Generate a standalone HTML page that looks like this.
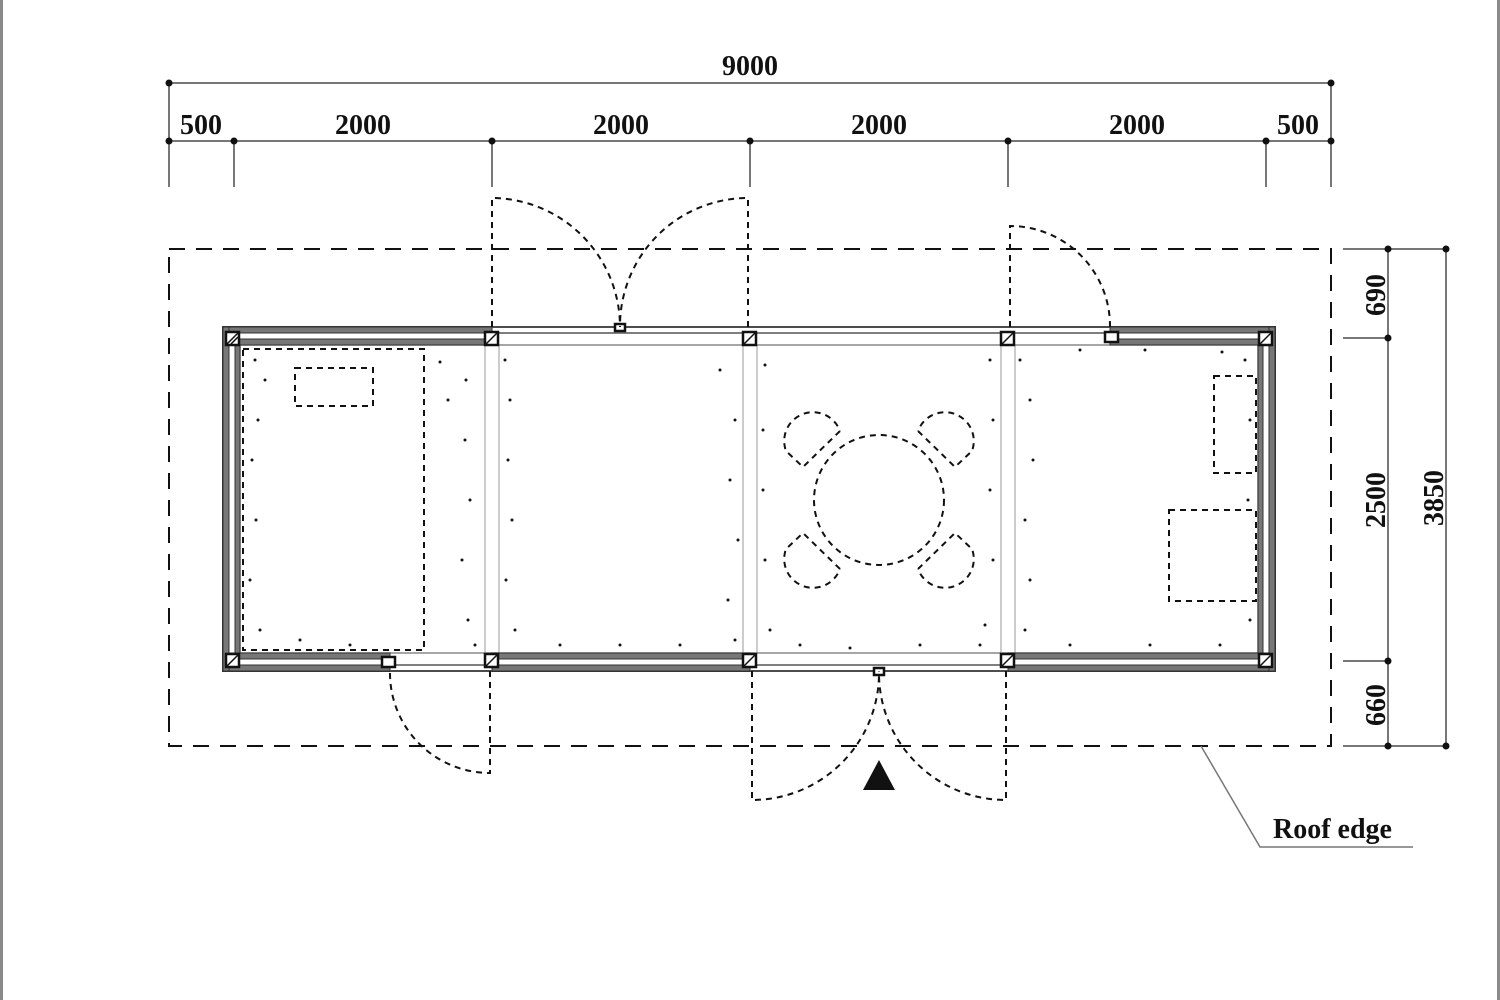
<!DOCTYPE html>
<html><head><meta charset="utf-8"><style>
html,body{margin:0;padding:0;background:#fff;}
svg{display:block;}
text{font-family:"Liberation Serif",serif;font-weight:bold;fill:#111;}
</style></head><body>
<svg width="1500" height="1000" viewBox="0 0 1500 1000" xmlns="http://www.w3.org/2000/svg">
<rect x="0" y="0" width="3" height="1000" fill="#8a8a8a"/>
<rect x="1497" y="0" width="3" height="1000" fill="#8a8a8a"/>

<g stroke="#777" stroke-width="2" fill="none">
<line x1="169" y1="83" x2="1331" y2="83"/>
<line x1="169" y1="141" x2="1331" y2="141"/>
<line x1="169" y1="83" x2="169" y2="187"/>
<line x1="1331" y1="83" x2="1331" y2="187"/>
<line x1="234" y1="141" x2="234" y2="187"/>
<line x1="492" y1="141" x2="492" y2="187"/>
<line x1="750" y1="141" x2="750" y2="187"/>
<line x1="1008" y1="141" x2="1008" y2="187"/>
<line x1="1266" y1="141" x2="1266" y2="187"/>
</g>
<g fill="#111">
<circle cx="169" cy="83" r="3.5"/><circle cx="1331" cy="83" r="3.5"/>
<circle cx="169" cy="141" r="3.5"/><circle cx="234" cy="141" r="3.5"/><circle cx="492" cy="141" r="3.5"/><circle cx="750" cy="141" r="3.5"/><circle cx="1008" cy="141" r="3.5"/><circle cx="1266" cy="141" r="3.5"/><circle cx="1331" cy="141" r="3.5"/>
</g>
<g font-size="28" text-anchor="middle">
<text x="750" y="75">9000</text>
<text x="201" y="134">500</text>
<text x="363" y="134">2000</text>
<text x="621" y="134">2000</text>
<text x="879" y="134">2000</text>
<text x="1137" y="134">2000</text>
<text x="1298" y="134">500</text>
</g>

<g stroke="#777" stroke-width="2" fill="none">
<line x1="1343" y1="249" x2="1446" y2="249"/>
<line x1="1343" y1="338" x2="1388" y2="338"/>
<line x1="1343" y1="661" x2="1388" y2="661"/>
<line x1="1343" y1="746" x2="1446" y2="746"/>
<line x1="1388" y1="249" x2="1388" y2="746"/>
<line x1="1446" y1="249" x2="1446" y2="746"/>
</g>
<g fill="#111">
<circle cx="1388" cy="249" r="3.5"/><circle cx="1446" cy="249" r="3.5"/><circle cx="1388" cy="338" r="3.5"/><circle cx="1388" cy="661" r="3.5"/><circle cx="1388" cy="746" r="3.5"/><circle cx="1446" cy="746" r="3.5"/>
</g>
<g font-size="28" text-anchor="middle">
<text transform="translate(1385,295) rotate(-90)">690</text>
<text transform="translate(1385,500) rotate(-90)">2500</text>
<text transform="translate(1385,705) rotate(-90)">660</text>
<text transform="translate(1443,498) rotate(-90)">3850</text>
</g>

<rect x="169" y="249" width="1162" height="497" fill="none" stroke="#111" stroke-width="2" stroke-dasharray="16,11"/>
<polyline points="1201,746 1260,847 1413,847" fill="none" stroke="#777" stroke-width="1.5"/>
<text x="1273" y="838" font-size="28">Roof edge</text>

<g fill="none" stroke="#333">
<rect x="223" y="327" width="1052" height="344" stroke-width="2"/>
<rect x="240" y="345" width="1018" height="308" stroke-width="1.5" stroke="#888"/>
<line x1="485" y1="345" x2="485" y2="653" stroke="#999"/>
<line x1="499" y1="345" x2="499" y2="653" stroke="#999"/>
<line x1="743" y1="345" x2="743" y2="653" stroke="#999"/>
<line x1="757" y1="345" x2="757" y2="653" stroke="#999"/>
<line x1="1001" y1="345" x2="1001" y2="653" stroke="#999"/>
<line x1="1015" y1="345" x2="1015" y2="653" stroke="#999"/>
</g>
<g fill="#777" stroke="#333" stroke-width="1">
<rect x="223" y="327" width="269" height="6"/>
<rect x="223" y="339" width="269" height="6"/>
<rect x="1110" y="327" width="165" height="6"/>
<rect x="1110" y="339" width="165" height="6"/>
<rect x="223" y="653" width="167" height="6"/>
<rect x="223" y="665" width="167" height="6"/>
<rect x="492" y="653" width="258" height="6"/>
<rect x="492" y="665" width="258" height="6"/>
<rect x="1008" y="653" width="267" height="6"/>
<rect x="1008" y="665" width="267" height="6"/>
<rect x="223" y="327" width="6" height="344"/>
<rect x="235" y="345" width="5" height="308"/>
<rect x="1269" y="327" width="6" height="344"/>
<rect x="1258" y="345" width="5" height="308"/>
</g>
<g stroke="#555" stroke-width="1.5">
<line x1="492" y1="327" x2="1110" y2="327"/>
<line x1="492" y1="333" x2="1110" y2="333"/>
<line x1="390" y1="671" x2="492" y2="671"/>
<line x1="390" y1="665" x2="492" y2="665"/>
<line x1="750" y1="671" x2="1008" y2="671"/>
<line x1="750" y1="665" x2="1008" y2="665"/>
</g>
<g fill="#fff" stroke="#111" stroke-width="2.5">
<rect x="226" y="332" width="13" height="13"/><rect x="485" y="332" width="13" height="13"/><rect x="743" y="332" width="13" height="13"/><rect x="1001" y="332" width="13" height="13"/><rect x="1259" y="332" width="13" height="13"/>
<rect x="226" y="654" width="13" height="13"/><rect x="485" y="654" width="13" height="13"/><rect x="743" y="654" width="13" height="13"/><rect x="1001" y="654" width="13" height="13"/><rect x="1259" y="654" width="13" height="13"/>
<rect x="1105" y="332" width="13" height="10"/><rect x="382" y="657" width="13" height="10"/>
<rect x="615" y="324" width="10" height="7"/><rect x="874" y="668" width="10" height="7"/>
</g>
<g stroke="#111" stroke-width="1.5">
<line x1="227" y1="344" x2="238" y2="333"/><line x1="231" y1="344" x2="238" y2="337"/><line x1="486" y1="344" x2="497" y2="333"/><line x1="744" y1="344" x2="755" y2="333"/><line x1="1002" y1="344" x2="1013" y2="333"/><line x1="1260" y1="344" x2="1271" y2="333"/>
<line x1="227" y1="666" x2="238" y2="655"/><line x1="486" y1="666" x2="497" y2="655"/><line x1="744" y1="666" x2="755" y2="655"/><line x1="1002" y1="666" x2="1013" y2="655"/><line x1="1260" y1="666" x2="1271" y2="655"/>
</g>

<g fill="none" stroke="#111" stroke-width="2" stroke-dasharray="6,5">
<path d="M492,327 L492,198 A129,129 0 0 1 620,327"/>
<path d="M748,327 L748,198 A128,128 0 0 0 620,327"/>
<path d="M1010,327 L1010,226 A100,100 0 0 1 1110,327"/>
<path d="M490,671 L490,773 A100,100 0 0 1 390,671"/>
<path d="M752,671 L752,800 A127,127 0 0 0 879,671"/>
<path d="M1006,671 L1006,800 A127,127 0 0 1 879,671"/>
</g>
<polygon points="879,760 863,790 895,790" fill="#111"/>

<g fill="none" stroke="#111" stroke-width="2" stroke-dasharray="6,5">
<rect x="243" y="349" width="181" height="301"/>
<rect x="295" y="368" width="78" height="38"/>
<circle cx="879" cy="500" r="65"/>
<path d="M840,431 L803,467 L786,451 A27,27 0 1 1 840,431"/>
<g transform="translate(1758,0) scale(-1,1)"><path d="M840,431 L803,467 L786,451 A27,27 0 1 1 840,431"/></g>
<g transform="translate(0,1000) scale(1,-1)"><path d="M840,431 L803,467 L786,451 A27,27 0 1 1 840,431"/></g>
<g transform="translate(1758,1000) scale(-1,-1)"><path d="M840,431 L803,467 L786,451 A27,27 0 1 1 840,431"/></g>
<rect x="1214" y="376" width="42" height="97"/>
<rect x="1169" y="510" width="87" height="91"/>
</g>

<g fill="#111">
<circle cx="255" cy="360" r="1.5"/><circle cx="265" cy="380" r="1.5"/><circle cx="258" cy="420" r="1.5"/><circle cx="252" cy="460" r="1.5"/><circle cx="256" cy="520" r="1.5"/><circle cx="250" cy="580" r="1.5"/><circle cx="260" cy="630" r="1.5"/><circle cx="300" cy="640" r="1.5"/><circle cx="350" cy="645" r="1.5"/>
<circle cx="440" cy="362" r="1.5"/><circle cx="448" cy="400" r="1.5"/><circle cx="466" cy="380" r="1.5"/><circle cx="465" cy="440" r="1.5"/><circle cx="470" cy="500" r="1.5"/><circle cx="462" cy="560" r="1.5"/><circle cx="468" cy="620" r="1.5"/><circle cx="475" cy="645" r="1.5"/>
<circle cx="505" cy="360" r="1.5"/><circle cx="510" cy="400" r="1.5"/><circle cx="508" cy="460" r="1.5"/><circle cx="512" cy="520" r="1.5"/><circle cx="506" cy="580" r="1.5"/><circle cx="515" cy="630" r="1.5"/><circle cx="560" cy="645" r="1.5"/><circle cx="620" cy="645" r="1.5"/><circle cx="680" cy="645" r="1.5"/>
<circle cx="720" cy="370" r="1.5"/><circle cx="735" cy="420" r="1.5"/><circle cx="730" cy="480" r="1.5"/><circle cx="738" cy="540" r="1.5"/><circle cx="728" cy="600" r="1.5"/><circle cx="735" cy="640" r="1.5"/>
<circle cx="765" cy="365" r="1.5"/><circle cx="763" cy="430" r="1.5"/><circle cx="763" cy="490" r="1.5"/><circle cx="765" cy="560" r="1.5"/><circle cx="770" cy="630" r="1.5"/><circle cx="800" cy="645" r="1.5"/><circle cx="850" cy="648" r="1.5"/><circle cx="920" cy="645" r="1.5"/><circle cx="980" cy="645" r="1.5"/>
<circle cx="990" cy="360" r="1.5"/><circle cx="993" cy="420" r="1.5"/><circle cx="990" cy="490" r="1.5"/><circle cx="993" cy="560" r="1.5"/><circle cx="985" cy="625" r="1.5"/>
<circle cx="1020" cy="360" r="1.5"/><circle cx="1030" cy="400" r="1.5"/><circle cx="1033" cy="460" r="1.5"/><circle cx="1025" cy="520" r="1.5"/><circle cx="1030" cy="580" r="1.5"/><circle cx="1025" cy="630" r="1.5"/><circle cx="1070" cy="645" r="1.5"/><circle cx="1150" cy="645" r="1.5"/><circle cx="1220" cy="645" r="1.5"/>
<circle cx="1080" cy="350" r="1.5"/><circle cx="1145" cy="350" r="1.5"/><circle cx="1222" cy="352" r="1.5"/><circle cx="1245" cy="360" r="1.5"/><circle cx="1250" cy="420" r="1.5"/><circle cx="1248" cy="500" r="1.5"/><circle cx="1250" cy="620" r="1.5"/>
</g>
</svg>
</body></html>
